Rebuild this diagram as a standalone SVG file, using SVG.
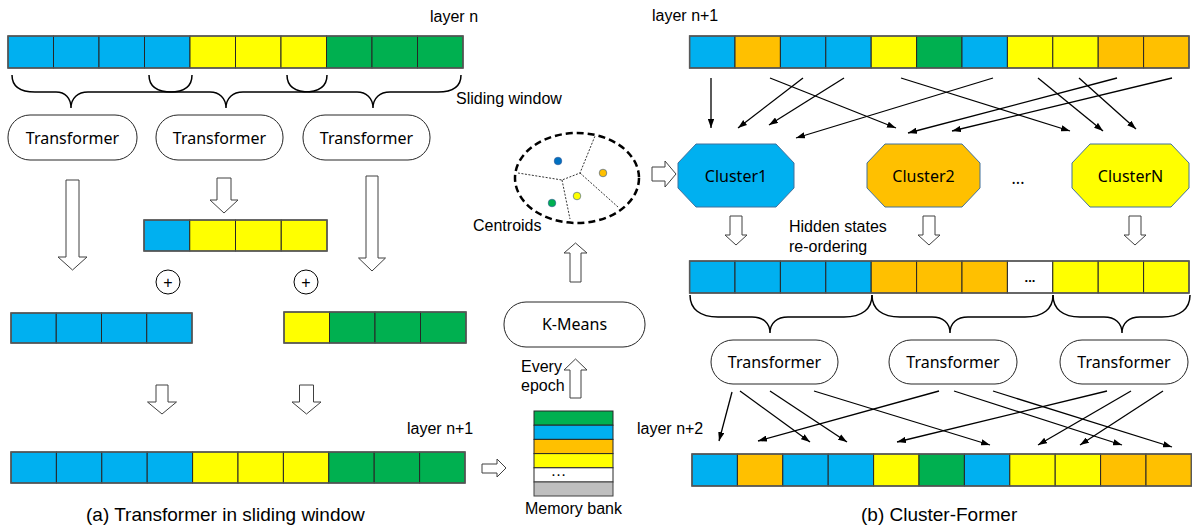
<svg xmlns="http://www.w3.org/2000/svg" width="1192" height="526" viewBox="0 0 1192 526">
<style>
.bg{fill:#fff}
.cb{fill:#00B0F0;stroke:#262626;stroke-width:1}
.cy{fill:#FFFF00;stroke:#262626;stroke-width:1}
.cg{fill:#00B050;stroke:#262626;stroke-width:1}
.co{fill:#FFC000;stroke:#262626;stroke-width:1}
.cw{fill:#FFFFFF;stroke:#262626;stroke-width:1}
.cr{fill:#BFBFBF;stroke:#404040;stroke-width:1}
.frame{fill:none;stroke:#595959;stroke-width:1.5}
.brace{fill:none;stroke:#000;stroke-width:1.5}
.hol{fill:#fff;stroke:#404040;stroke-width:1}
.box{fill:#fff;stroke:#262626;stroke-width:1}
.oct{stroke:#41719C;stroke-width:1}
.thin{fill:none;stroke:#000;stroke-width:1.3;marker-end:url(#ah)}
.t{font-family:"Liberation Sans",Arial,sans-serif;font-size:16px;fill:#000}
.cal{font-family:"Noto Sans","Open Sans",sans-serif;font-size:16px;fill:#000;text-anchor:middle}
.cap{font-family:"Liberation Sans",Arial,sans-serif;font-size:19px;fill:#000}
</style>
<defs>
<marker id="ah" viewBox="0 0 10 7" refX="10" refY="3.5" markerWidth="9" markerHeight="6.5" orient="auto" markerUnits="userSpaceOnUse">
<path d="M0,0 L10,3.5 L0,7 z" fill="#000"/>
</marker>
</defs>
<rect class="bg" x="0" y="0" width="1192" height="526"/>

<!-- (a) left part -->
<g id="bar-layer-n">
<rect class="cb" x="8" y="36" width="45.5" height="32"/>
<rect class="cb" x="53.5" y="36" width="45.5" height="32"/>
<rect class="cb" x="99" y="36" width="45.5" height="32"/>
<rect class="cb" x="144.5" y="36" width="45.5" height="32"/>
<rect class="cy" x="190" y="36" width="45.5" height="32"/>
<rect class="cy" x="235.5" y="36" width="45.5" height="32"/>
<rect class="cy" x="281" y="36" width="45.5" height="32"/>
<rect class="cg" x="326.5" y="36" width="45.5" height="32"/>
<rect class="cg" x="372" y="36" width="45.5" height="32"/>
<rect class="cg" x="417.5" y="36" width="45.5" height="32"/>
<rect class="frame" x="8" y="36" width="455" height="32"/>
</g>
<text class="t" x="430" y="22">layer n</text>
<text class="t" x="456" y="104">Sliding window</text>

<g id="braces-a">
<path class="brace" d="M12,75 C12,86 20,92 35,92 L56,92 C65,92 71,98 71,108 C71,98 78,92 88,92 L170,92 C185,92 192,86 192,75"/>
<path class="brace" d="M149,75 C149,86 157,92 172,92 L210,92 C219,92 226,98 226,108 C226,98 233,92 243,92 L304,92 C319,92 327,86 327,75"/>
<path class="brace" d="M287,75 C287,86 295,92 310,92 L357,92 C366,92 373,98 373,108 C373,98 380,92 390,92 L438,92 C453,92 461,86 461,75"/>
</g>

<g id="tf-a1"><rect class="box" x="8" y="115" width="129" height="45" rx="22" ry="22"/><text class="cal" x="72.5" y="144">Transformer</text></g>
<g id="tf-a2"><rect class="box" x="156" y="115" width="127" height="45" rx="22" ry="22"/><text class="cal" x="219.5" y="144">Transformer</text></g>
<g id="tf-a3"><rect class="box" x="303" y="115" width="127" height="45" rx="22" ry="22"/><text class="cal" x="366.5" y="144">Transformer</text></g>

<g id="hollow-arrows-a">
<polygon class="hol" points="66,180 79,180 79,257 87,257 72.5,270 58,257 66,257"/>
<polygon class="hol" points="217,178 231,178 231,200 238,200 224,213 210,200 217,200"/>
<polygon class="hol" points="366,176 378,176 378,258 385.5,258 372,271 358.5,258 366,258"/>
<polygon class="hol" points="156,385 168,385 168,402 176.5,402 162,414 147.5,402 156,402"/>
<polygon class="hol" points="299.5,385 313.5,385 313.5,402 321,402 306.5,414 292,402 299.5,402"/>
</g>

<g id="bar-mid">
<rect class="cb" x="144" y="220" width="45.75" height="31"/>
<rect class="cy" x="189.75" y="220" width="45.75" height="31"/>
<rect class="cy" x="235.5" y="220" width="45.75" height="31"/>
<rect class="cy" x="281.25" y="220" width="45.75" height="31"/>
<rect class="frame" x="144" y="220" width="183" height="31"/>
</g>

<g id="plus1"><circle cx="168" cy="282" r="12" fill="#fff" stroke="#000" stroke-width="1"/><text class="t" x="168" y="287.5" text-anchor="middle" font-size="15">+</text></g>
<g id="plus2"><circle cx="306" cy="282" r="12" fill="#fff" stroke="#000" stroke-width="1"/><text class="t" x="306" y="287.5" text-anchor="middle" font-size="15">+</text></g>

<g id="bar-left">
<rect class="cb" x="11" y="313" width="45.25" height="30"/>
<rect class="cb" x="56.25" y="313" width="45.25" height="30"/>
<rect class="cb" x="101.5" y="313" width="45.25" height="30"/>
<rect class="cb" x="146.75" y="313" width="45.25" height="30"/>
<rect class="frame" x="11" y="313" width="181" height="30"/>
</g>
<g id="bar-right">
<rect class="cy" x="284" y="312" width="45.5" height="31"/>
<rect class="cg" x="329.5" y="312" width="45.5" height="31"/>
<rect class="cg" x="375" y="312" width="45.5" height="31"/>
<rect class="cg" x="420.5" y="312" width="45.5" height="31"/>
<rect class="frame" x="284" y="312" width="182" height="31"/>
</g>

<text class="t" x="407" y="434">layer n+1</text>
<g id="bar-layer-n1-a">
<rect class="cb" x="11" y="452" width="45.4" height="31"/>
<rect class="cb" x="56.4" y="452" width="45.4" height="31"/>
<rect class="cb" x="101.8" y="452" width="45.4" height="31"/>
<rect class="cb" x="147.2" y="452" width="45.4" height="31"/>
<rect class="cy" x="192.6" y="452" width="45.4" height="31"/>
<rect class="cy" x="238" y="452" width="45.4" height="31"/>
<rect class="cy" x="283.4" y="452" width="45.4" height="31"/>
<rect class="cg" x="328.8" y="452" width="45.4" height="31"/>
<rect class="cg" x="374.2" y="452" width="45.4" height="31"/>
<rect class="cg" x="419.6" y="452" width="45.4" height="31"/>
<rect class="frame" x="11" y="452" width="454" height="31"/>
</g>
<text class="cap" x="86" y="521">(a) Transformer in sliding window</text>

<!-- center -->
<g id="centroids">
<ellipse cx="577" cy="178" rx="62" ry="45" fill="#fff" stroke="#000" stroke-width="2.5" stroke-dasharray="7 4"/>
<path d="M518,173 L562,180 L580,173 L595,136 M580,173 L618,207 M562,180 L570,219" fill="none" stroke="#000" stroke-width="0.8" stroke-dasharray="2 1.5"/>
<circle cx="558" cy="161" r="3.8" fill="#0070C0" stroke="#2F5597" stroke-width="0.6"/>
<circle cx="603" cy="173" r="3.8" fill="#FFC000" stroke="#2F5597" stroke-width="0.6"/>
<circle cx="577" cy="196" r="3.8" fill="#FFFF00" stroke="#2F5597" stroke-width="0.6"/>
<circle cx="552" cy="203" r="3.8" fill="#00B050" stroke="#2F5597" stroke-width="0.6"/>
</g>
<text class="t" x="473" y="231">Centroids</text>

<g id="kmeans"><rect class="box" x="504" y="302" width="141" height="45" rx="22" ry="22"/><text class="cal" x="574.5" y="330">K-Means</text></g>
<text class="t" x="521" y="372">Every</text>
<text class="t" x="521" y="391">epoch</text>

<g id="memory-bank">
<rect class="cg" x="534" y="411" width="79" height="14.2" stroke="#404040" stroke-width="1.5"/>
<rect class="cb" x="534" y="425.2" width="79" height="14.2" stroke="#404040" stroke-width="1.5"/>
<rect class="co" x="534" y="439.4" width="79" height="14.2" stroke="#404040" stroke-width="1.5"/>
<rect class="cy" x="534" y="453.6" width="79" height="14.2" stroke="#404040" stroke-width="1.5"/>
<rect class="cw" x="534" y="467.8" width="79" height="14.2" stroke="#404040" stroke-width="1.5"/>
<rect class="cr" x="534" y="482" width="79" height="14" stroke="#404040" stroke-width="1.5"/>
<text class="t" x="558.5" y="476" text-anchor="middle" font-size="12">…</text>
</g>
<text class="t" x="525" y="514">Memory bank</text>

<g id="hollow-arrows-center">
<polygon class="hol" points="570,282 581,282 581,253 587,253 575.5,243 564,253 570,253"/>
<polygon class="hol" points="570,398 581,398 581,370 587,370 575.5,359 564,370 570,370"/>
<polygon class="hol" points="482,464 497,464 497,459 506,468 497,477 497,473 482,473"/>
<polygon class="hol" points="652,167 665,167 665,161 676,174 665,187 665,181 652,181"/>
</g>

<!-- (b) right part -->
<text class="t" x="652" y="21">layer n+1</text>
<g id="bar-layer-n1-b">
<rect class="cb" x="689.6" y="36" width="45.4" height="32"/>
<rect class="co" x="735" y="36" width="45.4" height="32"/>
<rect class="cb" x="780.4" y="36" width="45.4" height="32"/>
<rect class="cb" x="825.8" y="36" width="45.4" height="32"/>
<rect class="cy" x="871.2" y="36" width="45.4" height="32"/>
<rect class="cg" x="916.6" y="36" width="45.4" height="32"/>
<rect class="cb" x="962" y="36" width="45.4" height="32"/>
<rect class="cy" x="1007.4" y="36" width="45.4" height="32"/>
<rect class="cy" x="1052.8" y="36" width="45.4" height="32"/>
<rect class="co" x="1098.2" y="36" width="45.4" height="32"/>
<rect class="co" x="1143.6" y="36" width="45.4" height="32"/>
<rect class="frame" x="689.6" y="36" width="499.4" height="32"/>
</g>

<g id="cluster1"><polygon class="oct" fill="#00B0F0" points="696,144 776,144 794,163 794,188 776,207 696,207 678,188 678,163"/><text class="cal" x="736" y="182">Cluster1</text></g>
<g id="cluster2"><polygon class="oct" fill="#FFC000" points="885,144 962,144 980,163 980,188 962,207 885,207 867,188 867,163"/><text class="cal" x="923.5" y="182">Cluster2</text></g>
<g id="clusterN"><polygon class="oct" fill="#FFFF00" points="1090,144 1171,144 1189,163 1189,188 1171,207 1090,207 1072,188 1072,163"/><text class="cal" x="1130.5" y="182">ClusterN</text></g>
<text class="cal" x="1018" y="184">...</text>

<g id="hollow-arrows-b">
<polygon class="hol" points="730,216 742,216 742,235 747,235 736,245 725,235 730,235"/>
<polygon class="hol" points="923,216 935,216 935,235 940,235 929,245 918,235 923,235"/>
<polygon class="hol" points="1129,216 1141,216 1141,235 1146,235 1135,245 1124,235 1129,235"/>
</g>
<text class="t" x="789" y="232">Hidden states</text>
<text class="t" x="789" y="252">re-ordering</text>

<g id="bar-reordered">
<rect class="cb" x="689.6" y="261" width="45.4" height="32"/>
<rect class="cb" x="735" y="261" width="45.4" height="32"/>
<rect class="cb" x="780.4" y="261" width="45.4" height="32"/>
<rect class="cb" x="825.8" y="261" width="45.4" height="32"/>
<rect class="co" x="871.2" y="261" width="45.4" height="32"/>
<rect class="co" x="916.6" y="261" width="45.4" height="32"/>
<rect class="co" x="962" y="261" width="45.4" height="32"/>
<rect class="cw" x="1007.4" y="261" width="45.4" height="32"/>
<rect class="cy" x="1052.8" y="261" width="45.4" height="32"/>
<rect class="cy" x="1098.2" y="261" width="45.4" height="32"/>
<rect class="cy" x="1143.6" y="261" width="45.4" height="32"/>
<rect class="frame" x="689.6" y="261" width="499.4" height="32"/>
<text x="1030" y="282" text-anchor="middle" font-family="Liberation Sans, Arial, sans-serif" font-size="13" font-weight="bold">...</text>
</g>

<g id="braces-b">
<path class="brace" d="M690,295 C690,309 700,317 718,317 L752,317 C763,317 770,323 770,333 C770,323 777,317 788,317 L844,317 C862,317 872,309 872,295"/>
<path class="brace" d="M872,295 C872,309 882,317 900,317 L932,317 C943,317 950,323 950,333 C950,323 957,317 968,317 L1025,317 C1043,317 1053,309 1053,295"/>
<path class="brace" d="M1053,295 C1053,309 1063,317 1080,317 L1104,317 C1115,317 1122,323 1122,333 C1122,323 1129,317 1140,317 L1162,317 C1180,317 1190,309 1190,295"/>
</g>

<g id="tf-b1"><rect class="box" x="711" y="340" width="127" height="44" rx="22" ry="22"/><text class="cal" x="774.5" y="368">Transformer</text></g>
<g id="tf-b2"><rect class="box" x="889" y="340" width="128" height="44" rx="22" ry="22"/><text class="cal" x="953" y="368">Transformer</text></g>
<g id="tf-b3"><rect class="box" x="1060" y="340" width="128" height="44" rx="22" ry="22"/><text class="cal" x="1124" y="368">Transformer</text></g>

<text class="t" x="637" y="434">layer n+2</text>
<g id="bar-layer-n2">
<rect class="cb" x="692" y="454" width="45.4" height="32"/>
<rect class="co" x="737.4" y="454" width="45.4" height="32"/>
<rect class="cb" x="782.8" y="454" width="45.4" height="32"/>
<rect class="cb" x="828.2" y="454" width="45.4" height="32"/>
<rect class="cy" x="873.6" y="454" width="45.4" height="32"/>
<rect class="cg" x="919" y="454" width="45.4" height="32"/>
<rect class="cb" x="964.4" y="454" width="45.4" height="32"/>
<rect class="cy" x="1009.8" y="454" width="45.4" height="32"/>
<rect class="cy" x="1055.2" y="454" width="45.4" height="32"/>
<rect class="co" x="1100.6" y="454" width="45.4" height="32"/>
<rect class="co" x="1146" y="454" width="45.4" height="32"/>
<rect class="frame" x="692" y="454" width="499.4" height="32"/>
</g>
<text class="cap" x="861" y="521">(b) Cluster-Former</text>

<g id="connectors">
<line class="thin" x1="711" y1="78" x2="711" y2="128"/>
<line class="thin" x1="803" y1="78" x2="738" y2="128"/>
<line class="thin" x1="844" y1="78" x2="769" y2="125"/>
<line class="thin" x1="770" y1="78" x2="896" y2="128"/>
<line class="thin" x1="993" y1="78" x2="796" y2="138"/>
<line class="thin" x1="901" y1="78" x2="1070" y2="131"/>
<line class="thin" x1="1117" y1="78" x2="908" y2="133"/>
<line class="thin" x1="1172" y1="78" x2="952" y2="131"/>
<line class="thin" x1="1038" y1="78" x2="1103" y2="131"/>
<line class="thin" x1="1079" y1="78" x2="1136" y2="129"/>

<line class="thin" x1="732" y1="392" x2="719" y2="441"/>
<line class="thin" x1="740" y1="391" x2="810" y2="442"/>
<line class="thin" x1="770" y1="391" x2="847" y2="442"/>
<line class="thin" x1="814" y1="391" x2="990" y2="445"/>
<line class="thin" x1="939" y1="391" x2="758" y2="441"/>
<line class="thin" x1="954" y1="391" x2="1122" y2="445"/>
<line class="thin" x1="993" y1="391" x2="1172" y2="447"/>
<line class="thin" x1="1107" y1="391" x2="897" y2="442"/>
<line class="thin" x1="1131" y1="391" x2="1038" y2="445"/>
<line class="thin" x1="1163" y1="391" x2="1080" y2="445"/>
</g>
</svg>
